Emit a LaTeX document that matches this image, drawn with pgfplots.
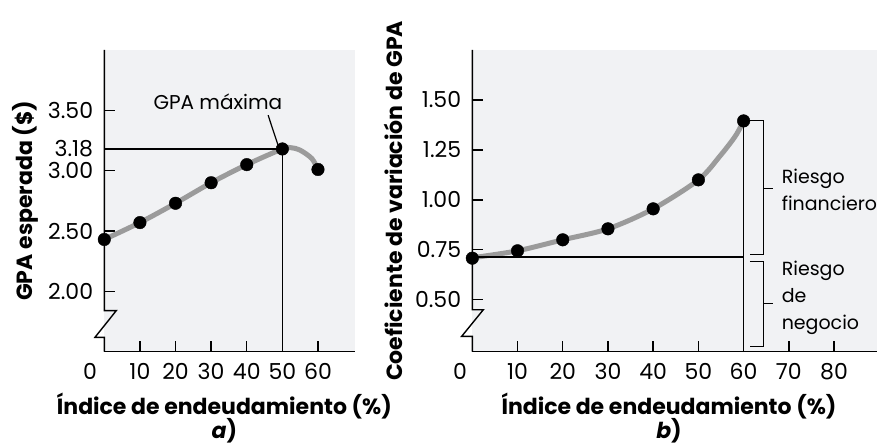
\documentclass[border=0pt]{standalone}
\usepackage{fontspec}
\setmainfont{Poppins}
\usepackage{pgfplots}
\pgfplotsset{compat=1.18}

\definecolor{fondo}{RGB}{241,242,244}
\definecolor{curva}{RGB}{155,155,155}

\begin{document}
\begin{tikzpicture}
\useasboundingbox (0pt,0pt) rectangle (877pt,446pt);
\pgfplotsset{
  panel/.style={
    scale only axis, height=301.7pt, anchor=south west,
    axis x line=bottom, axis y line=left,
    axis line style={-, line width=1.4pt, black},
    y axis line style={draw=none},
    axis background/.style={fill=fondo, draw=none},
    tick align=inside, major tick length=11pt,
    tick style={line width=1.4pt, black},
    /pgf/number format/assume math mode=true,
    ticklabel style={font=\fontsize{22}{24}\selectfont, inner sep=0pt},
    yticklabel style={xshift=-11pt},
    xticklabel style={anchor=base, yshift=-28.3pt},
    label style={font=\fontsize{22}{24}\selectfont\bfseries, inner sep=0pt},
    xlabel style={anchor=base, yshift=-63.3pt},
    ylabel style={anchor=center},
    extra x ticks={0}, extra x tick labels={0},
    clip=false,
  },
  punto/.style={only marks, mark=*, mark size=6.3pt, black},
  linea/.style={curva, line width=5pt, smooth},
}

% a) GPA esperada
\begin{axis}[panel, at={(104.3pt,94.3pt)}, width=250.7pt,
    xmin=0, xmax=70.4, ymin=1.5, ymax=4,
    xtick={10,20,...,60},
    extra x tick style={major tick length=0pt, xticklabel style={xshift=-14.3pt}},
    ytick={2,2.5,3,3.18,3.5},
    yticklabels={2.00,2.50,3.00,3.18,3.50},
    xlabel={Índice de endeudamiento (\%)},
    xlabel style={at={(axis description cs:0.479,0)}},
    ylabel={GPA esperada (\$)},
    ylabel style={at={(axis description cs:-0.316,0.5)}},
  ]
  \addplot[linea] coordinates {
    (0,2.43) (10,2.57) (20,2.73) (30,2.90) (40,3.05) (50,3.18)
    (52.5,3.19) (55,3.17) (58.3,3.10) (60,3.01)
  };
  \draw[line width=1.4pt] (axis cs:0,3.18) -- (axis cs:50,3.18) -- (axis cs:50,1.5);
  \draw[line width=1.2pt] (axis cs:46.0,3.46) -- (axis cs:48.8,3.21);
  \draw[line width=1.4pt] (axis cs:0,4) -- (axis cs:0,1.8405) -- ++(12pt,0pt)
    -- ++(-21.3pt,-26.7pt) -- ++(9.3pt,0pt) -- (axis cs:0,1.5);
  \addplot[punto] coordinates {
    (0,2.43) (10,2.57) (20,2.73) (30,2.90) (40,3.05) (50,3.18) (60,3.01)
  };
  \node[font=\fontsize{20}{24}\selectfont] at (axis cs:31.9,3.57) {GPA máxima};
  \node[anchor=base, font=\fontsize{22}{24}\selectfont\bfseries]
    at (axis description cs:0.479,0) [yshift=-86.5pt] {\textit{a})};
\end{axis}

% b) Coeficiente de variacion
\begin{axis}[panel, at={(472.3pt,94.3pt)}, width=404.7pt,
    xmin=0, xmax=89.5, ymin=0.24, ymax=1.75,
    xtick={10,20,...,80},
    extra x tick style={major tick length=0pt, xticklabel style={xshift=-12.3pt}},
    ytick={0.5,0.75,1,1.25,1.5},
    yticklabels={0.50,0.75,1.00,1.25,1.50},
    xlabel={Índice de endeudamiento (\%)},
    xlabel style={at={(axis description cs:0.486,0)}},
    ylabel={Coeficiente de variación de GPA},
    ylabel style={at={(axis description cs:-0.196,0.5)}},
  ]
  \addplot[linea] coordinates {
    (0,0.71) (10,0.745) (20,0.80) (30,0.855) (40,0.955) (50,1.10)
    (54.8,1.22) (58.2,1.32) (60,1.395)
  };
  \draw[line width=1.4pt] (axis cs:0,0.713) -- (axis cs:60,0.713);
  \draw[line width=1.4pt] (axis cs:60,1.395) -- (axis cs:60,0.24);
  \draw[line width=1.4pt] (axis cs:0,1.75) -- (axis cs:0,0.45) -- ++(11pt,0pt)
    -- ++(-21.7pt,-26.7pt) -- ++(10.7pt,0pt) -- (axis cs:0,0.24);
  \addplot[punto] coordinates {
    (0,0.708) (10,0.745) (20,0.80) (30,0.855) (40,0.955) (50,1.10) (60,1.395)
  };
  % llaves de riesgo
  \draw[line width=1pt] (axis cs:61.4,1.3965) -- (axis cs:64.4,1.3965)
    -- (axis cs:64.4,0.725) -- (axis cs:61.4,0.725);
  \draw[line width=1pt] (axis cs:64.4,1.0585) -- (axis cs:66.6,1.0585);
  \draw[line width=1pt] (axis cs:61.4,0.6915) -- (axis cs:64.4,0.6915)
    -- (axis cs:64.4,0.2665) -- (axis cs:61.4,0.2665);
  \draw[line width=1pt] (axis cs:64.4,0.48) -- (axis cs:66.6,0.48);
  \node[anchor=west, align=left, inner sep=0pt, font=\fontsize{19}{26.6}\selectfont]
    at (axis cs:68.4,1.05) {Riesgo\\financiero};
  \node[anchor=west, align=left, inner sep=0pt, font=\fontsize{19}{26.6}\selectfont]
    at (axis cs:68.4,0.51) {Riesgo\\de\\negocio};
  \node[anchor=base, font=\fontsize{22}{24}\selectfont\bfseries]
    at (axis description cs:0.486,0) [yshift=-86.5pt] {\textit{b})};
\end{axis}
\end{tikzpicture}
\end{document}
